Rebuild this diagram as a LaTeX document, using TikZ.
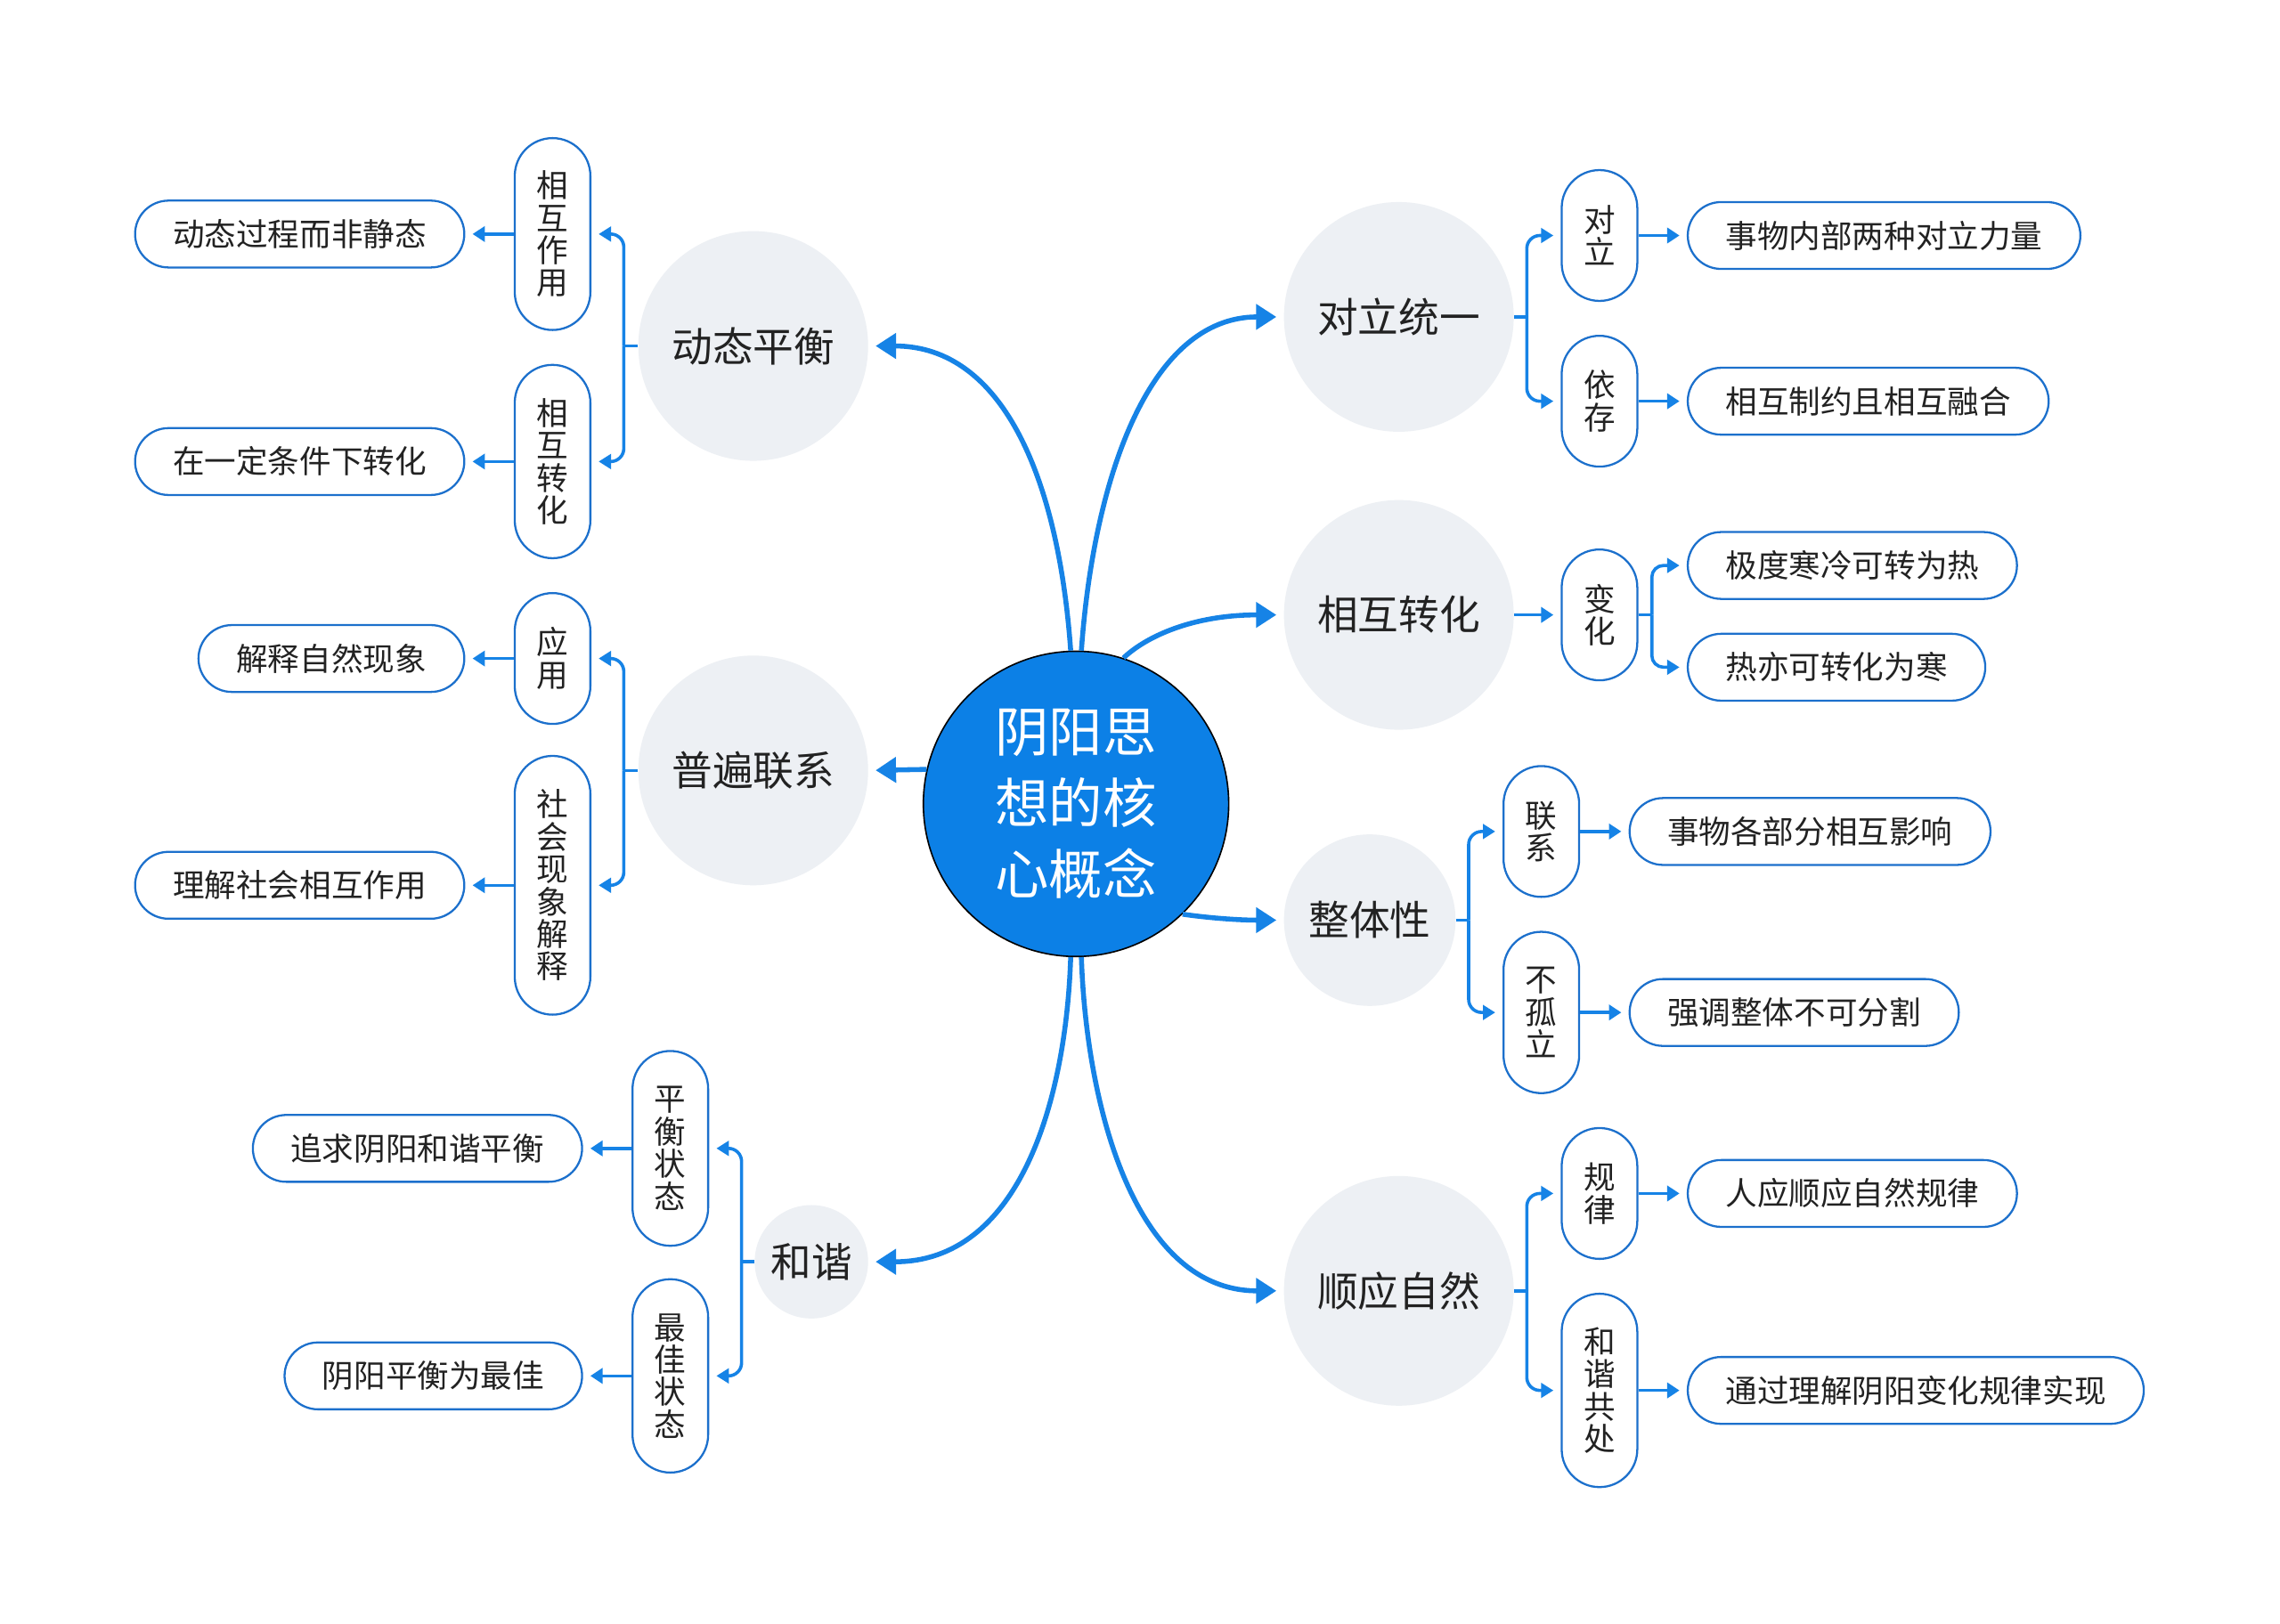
\documentclass[tikz,border=0pt]{standalone}
\usepackage{fontspec}
\setmainfont{Noto Sans CJK SC}
\usetikzlibrary{arrows.meta}
\definecolor{connc}{RGB}{22,131,230}
\definecolor{pillc}{RGB}{28,112,204}
\definecolor{centc}{RGB}{12,128,230}
\definecolor{greyc}{RGB}{237,240,244}
\definecolor{txtc}{RGB}{34,34,34}
\begin{document}
\begin{tikzpicture}[x=1pt,y=-1pt,
  conn/.style={draw=connc, line width=3.4pt, shorten >=5pt, -{Triangle[length=14pt,width=17pt]}},
  brk/.style={draw=connc, line width=2.2pt, rounded corners=9pt, shorten >=5pt, -{Triangle[length=8.5pt,width=10pt]}},
  stub/.style={draw=connc, line width=2.2pt},
  sarr/.style={draw=connc, line width=2.2pt, shorten >=5pt, -{Triangle[length=8.5pt,width=10.5pt]}},
  centre/.style={circle, minimum size=210pt, inner sep=0pt, fill=centc, draw=black, line width=1pt, text=white, align=center, font=\fontsize{37}{49}\selectfont},
  topic/.style={circle, minimum size=158pt, inner sep=0pt, fill=greyc, text=txtc, font=\fontsize{28}{32}\selectfont},
  vpill/.style={draw=pillc, line width=1.4pt, fill=white, rounded corners=26pt, minimum width=52pt, inner sep=0pt, align=center, text=txtc, font=\fontsize{21.8}{22.3}\selectfont},
  leaf/.style={draw=pillc, line width=1.4pt, fill=white, rounded corners=23pt, minimum height=46pt, inner xsep=26pt, inner ysep=0pt, text=txtc, font=\fontsize{21.8}{24}\selectfont}
]
\fill[white] (0,0) rectangle (1568,1117);
\useasboundingbox (0,0) rectangle (1568,1117);

% centre and topics
\node[centre] (c) at (740,553) {阴阳思\\想的核\\心概念};
\node[topic] (t1) at (518,238) {动态平衡};
\node[topic] (t2) at (518,530) {普遍联系};
\node[topic, minimum size=78pt] (t3) at (558,868) {和谐};
\node[topic] (t4) at (962,218) {对立统一};
\node[topic] (t5) at (962,423) {相互转化};
\node[topic, minimum size=118pt] (t6) at (942,633) {整体性};
\node[topic] (t7) at (962,888) {顺应自然};

% main connectors
\draw[conn] (c.92) .. controls (728,330) and (690,238) .. (t1.east);
\draw[conn] (c.88) .. controls (752,330) and (790,218) .. (t4.west);
\draw[conn] (c.72) .. controls (788,438) and (820,423) .. (t5.west);
\draw[conn] (c.167) -- (t2.east);
\draw[conn] (c.314) .. controls (835,632) and (855,633) .. (t6.west);
\draw[conn] (c.268) .. controls (733,760) and (700,868) .. (t3.east);
\draw[conn] (c.272) .. controls (747,760) and (780,888) .. (t7.west);

% group 1: 动态平衡
\node[vpill, minimum height=132pt] (p1a) at (380,161) {相\\互\\作\\用};
\node[vpill, minimum height=133pt] (p1b) at (380,317.5) {相\\互\\转\\化};
\node[leaf, anchor=east] (l1a) at (320,161) {动态过程而非静态};
\node[leaf, anchor=east] (l1b) at (320,317.5) {在一定条件下转化};
\coordinate (j1) at (429,238);
\draw[stub] (t1.west) -- (j1);
\draw[brk] (j1) |- (p1a.east);
\draw[brk] (j1) |- (p1b.east);
\draw[sarr] (p1a.west) -- (l1a.east);
\draw[sarr] (p1b.west) -- (l1b.east);

% group 2: 普遍联系
\node[vpill, minimum height=90pt] (p2a) at (380,453) {应\\用};
\node[vpill, minimum height=178pt] (p2b) at (380,609) {社\\会\\现\\象\\解\\释};
\node[leaf, anchor=east] (l2a) at (320,453) {解释自然现象};
\node[leaf, anchor=east] (l2b) at (320,609) {理解社会相互作用};
\coordinate (j2) at (429,530);
\draw[stub] (t2.west) -- (j2);
\draw[brk] (j2) |- (p2a.east);
\draw[brk] (j2) |- (p2b.east);
\draw[sarr] (p2a.west) -- (l2a.east);
\draw[sarr] (p2b.west) -- (l2b.east);

% group 3: 和谐
\node[vpill, minimum height=134pt] (p3a) at (461,790) {平\\衡\\状\\态};
\node[vpill, minimum height=133pt] (p3b) at (461,946.5) {最\\佳\\状\\态};
\node[leaf, anchor=east] (l3a) at (401,790) {追求阴阳和谐平衡};
\node[leaf, anchor=east] (l3b) at (401,946.5) {阴阳平衡为最佳};
\coordinate (j3) at (510,868);
\draw[stub] (t3.west) -- (j3);
\draw[brk] (j3) |- (p3a.east);
\draw[brk] (j3) |- (p3b.east);
\draw[sarr] (p3a.west) -- (l3a.east);
\draw[sarr] (p3b.west) -- (l3b.east);

% group 4: 对立统一
\node[vpill, minimum height=90pt] (p4a) at (1100,162) {对\\立};
\node[vpill, minimum height=90pt] (p4b) at (1100,276) {依\\存};
\node[leaf, anchor=west] (l4a) at (1160,162) {事物内部两种对立力量};
\node[leaf, anchor=west] (l4b) at (1160,276) {相互制约且相互融合};
\coordinate (j4) at (1050,218);
\draw[stub] (t4.east) -- (j4);
\draw[brk] (j4) |- (p4a.west);
\draw[brk] (j4) |- (p4b.west);
\draw[sarr] (p4a.east) -- (l4a.west);
\draw[sarr] (p4b.east) -- (l4b.west);

% group 5: 相互转化
\node[vpill, minimum height=90pt] (p5) at (1100,423) {变\\化};
\node[leaf, anchor=west] (l5a) at (1160,389) {极度寒冷可转为热};
\node[leaf, anchor=west] (l5b) at (1160,459) {热亦可转化为寒};
\draw[sarr] (t5.east) -- (p5.west);
\coordinate (j5) at (1136,423);
\draw[stub] (p5.east) -- (j5);
\draw[brk, rounded corners=8pt] (j5) |- (l5a.west);
\draw[brk, rounded corners=8pt] (j5) |- (l5b.west);

% group 6: 整体性
\node[vpill, minimum height=90pt] (p6a) at (1060,572) {联\\系};
\node[vpill, minimum height=111pt] (p6b) at (1060,696.5) {不\\孤\\立};
\node[leaf, anchor=west] (l6a) at (1120,572) {事物各部分相互影响};
\node[leaf, anchor=west] (l6b) at (1120,696.5) {强调整体不可分割};
\coordinate (j6) at (1010,633);
\draw[stub] (t6.east) -- (j6);
\draw[brk] (j6) |- (p6a.west);
\draw[brk] (j6) |- (p6b.west);
\draw[sarr] (p6a.east) -- (l6a.west);
\draw[sarr] (p6b.east) -- (l6b.west);

% group 7: 顺应自然
\node[vpill, minimum height=90pt] (p7a) at (1100,821) {规\\律};
\node[vpill, minimum height=133pt] (p7b) at (1100,956.5) {和\\谐\\共\\处};
\node[leaf, anchor=west] (l7a) at (1160,821) {人应顺应自然规律};
\node[leaf, anchor=west] (l7b) at (1160,956.5) {通过理解阴阳变化规律实现};
\coordinate (j7) at (1050,888);
\draw[stub] (t7.east) -- (j7);
\draw[brk] (j7) |- (p7a.west);
\draw[brk] (j7) |- (p7b.west);
\draw[sarr] (p7a.east) -- (l7a.west);
\draw[sarr] (p7b.east) -- (l7b.west);
\end{tikzpicture}
\end{document}
